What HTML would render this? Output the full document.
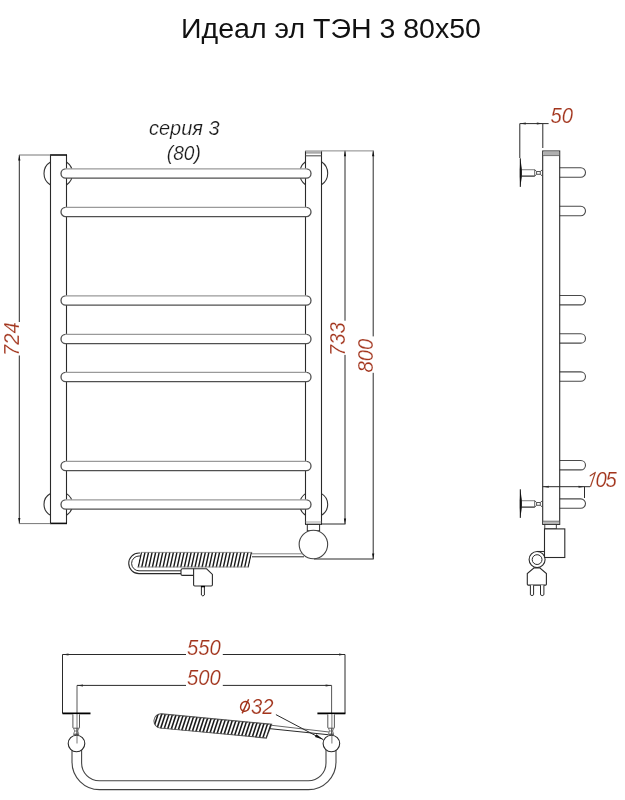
<!DOCTYPE html>
<html><head><meta charset="utf-8"><style>
html,body{margin:0;padding:0;background:#fff;}
body{width:625px;height:800px;overflow:hidden;position:relative;}
svg{position:absolute;left:0;top:0;will-change:transform;}
.t{font-family:"Liberation Sans",sans-serif;}
.d{font-family:"Liberation Sans",sans-serif;font-style:italic;fill:#a2341c;stroke:#fff;stroke-width:0.2px;}
</style></head><body>
<svg width="625" height="800" viewBox="0 0 625 800">
<rect width="625" height="800" fill="#fff"/>
<path d="M50.5,162 A13.42,13.42 0 0 0 50.5,185" fill="none" stroke="#333" stroke-width="1.1"/>
<path d="M66.5,162 A14.02,14.02 0 0 1 66.5,185" fill="none" stroke="#333" stroke-width="1.1"/>
<path d="M50.5,493.6 A12.22,12.22 0 0 0 50.5,515.2" fill="none" stroke="#333" stroke-width="1.1"/>
<path d="M66.5,493.6 A12.72,12.72 0 0 1 66.5,515.2" fill="none" stroke="#333" stroke-width="1.1"/>
<path d="M305.5,161.7 A14.40,14.40 0 0 0 305.5,184.8" fill="none" stroke="#333" stroke-width="1.1"/>
<path d="M321.5,161.7 A13.86,13.86 0 0 1 321.5,184.8" fill="none" stroke="#333" stroke-width="1.1"/>
<path d="M305.5,493.6 A12.96,12.96 0 0 0 305.5,515.2" fill="none" stroke="#333" stroke-width="1.1"/>
<path d="M321.5,493.6 A12.51,12.51 0 0 1 321.5,515.2" fill="none" stroke="#333" stroke-width="1.1"/>
<path d="M50.5,155 L50.5,523.5 M66.5,155 L66.5,523.5" fill="none" stroke="#2a2a2a" stroke-width="1.1"/>
<line x1="50" y1="155" x2="67" y2="155" stroke="#111" stroke-width="1.6"/>
<line x1="50" y1="523.4" x2="67" y2="523.4" stroke="#111" stroke-width="1.6"/>
<path d="M305.5,151 L305.5,524.2 M321.5,151 L321.5,524.2" fill="none" stroke="#2a2a2a" stroke-width="1.1"/>
<line x1="305" y1="151" x2="322" y2="151" stroke="#888" stroke-width="1"/>
<rect x="306" y="151.3" width="15" height="2.4" fill="#aaa"/>
<line x1="305.5" y1="155.8" x2="321.5" y2="155.8" stroke="#555" stroke-width="1.1"/>
<line x1="305.5" y1="522" x2="321.5" y2="522" stroke="#999" stroke-width="0.9"/>
<line x1="305" y1="524.3" x2="322" y2="524.3" stroke="#222" stroke-width="1.1"/>
<path d="M65.64999999999999,168.8 L306.35,168.8 A4.6499999999999915,4.6499999999999915 0 0 1 306.35,178.1 L65.64999999999999,178.1 A4.6499999999999915,4.6499999999999915 0 0 1 65.64999999999999,168.8 Z" fill="#fff"/>
<path d="M65.64999999999999,168.8 A4.6499999999999915,4.6499999999999915 0 0 0 65.64999999999999,178.1 L306.35,178.1 A4.6499999999999915,4.6499999999999915 0 0 0 306.35,168.8" fill="none" stroke="#505050" stroke-width="1.3"/>
<line x1="65.64999999999999" y1="168.8" x2="306.35" y2="168.8" stroke="#9a9a9a" stroke-width="1.3"/>
<path d="M65.64999999999999,207.3 L306.35,207.3 A4.6499999999999915,4.6499999999999915 0 0 1 306.35,216.6 L65.64999999999999,216.6 A4.6499999999999915,4.6499999999999915 0 0 1 65.64999999999999,207.3 Z" fill="#fff"/>
<path d="M65.64999999999999,207.3 A4.6499999999999915,4.6499999999999915 0 0 0 65.64999999999999,216.6 L306.35,216.6 A4.6499999999999915,4.6499999999999915 0 0 0 306.35,207.3" fill="none" stroke="#505050" stroke-width="1.3"/>
<line x1="65.64999999999999" y1="207.3" x2="306.35" y2="207.3" stroke="#9a9a9a" stroke-width="1.3"/>
<path d="M65.65,295.8 L306.35,295.8 A4.650000000000006,4.650000000000006 0 0 1 306.35,305.1 L65.65,305.1 A4.650000000000006,4.650000000000006 0 0 1 65.65,295.8 Z" fill="#fff"/>
<path d="M65.65,295.8 A4.650000000000006,4.650000000000006 0 0 0 65.65,305.1 L306.35,305.1 A4.650000000000006,4.650000000000006 0 0 0 306.35,295.8" fill="none" stroke="#505050" stroke-width="1.3"/>
<line x1="65.65" y1="295.8" x2="306.35" y2="295.8" stroke="#9a9a9a" stroke-width="1.3"/>
<path d="M65.65,334.3 L306.35,334.3 A4.650000000000006,4.650000000000006 0 0 1 306.35,343.6 L65.65,343.6 A4.650000000000006,4.650000000000006 0 0 1 65.65,334.3 Z" fill="#fff"/>
<path d="M65.65,334.3 A4.650000000000006,4.650000000000006 0 0 0 65.65,343.6 L306.35,343.6 A4.650000000000006,4.650000000000006 0 0 0 306.35,334.3" fill="none" stroke="#505050" stroke-width="1.3"/>
<line x1="65.65" y1="334.3" x2="306.35" y2="334.3" stroke="#9a9a9a" stroke-width="1.3"/>
<path d="M65.65,372.3 L306.35,372.3 A4.650000000000006,4.650000000000006 0 0 1 306.35,381.6 L65.65,381.6 A4.650000000000006,4.650000000000006 0 0 1 65.65,372.3 Z" fill="#fff"/>
<path d="M65.65,372.3 A4.650000000000006,4.650000000000006 0 0 0 65.65,381.6 L306.35,381.6 A4.650000000000006,4.650000000000006 0 0 0 306.35,372.3" fill="none" stroke="#505050" stroke-width="1.3"/>
<line x1="65.65" y1="372.3" x2="306.35" y2="372.3" stroke="#9a9a9a" stroke-width="1.3"/>
<path d="M65.65,461.3 L306.35,461.3 A4.650000000000006,4.650000000000006 0 0 1 306.35,470.6 L65.65,470.6 A4.650000000000006,4.650000000000006 0 0 1 65.65,461.3 Z" fill="#fff"/>
<path d="M65.65,461.3 A4.650000000000006,4.650000000000006 0 0 0 65.65,470.6 L306.35,470.6 A4.650000000000006,4.650000000000006 0 0 0 306.35,461.3" fill="none" stroke="#505050" stroke-width="1.3"/>
<line x1="65.65" y1="461.3" x2="306.35" y2="461.3" stroke="#9a9a9a" stroke-width="1.3"/>
<path d="M65.65,499.8 L306.35,499.8 A4.650000000000006,4.650000000000006 0 0 1 306.35,509.1 L65.65,509.1 A4.650000000000006,4.650000000000006 0 0 1 65.65,499.8 Z" fill="#fff"/>
<path d="M65.65,499.8 A4.650000000000006,4.650000000000006 0 0 0 65.65,509.1 L306.35,509.1 A4.650000000000006,4.650000000000006 0 0 0 306.35,499.8" fill="none" stroke="#505050" stroke-width="1.3"/>
<line x1="65.65" y1="499.8" x2="306.35" y2="499.8" stroke="#9a9a9a" stroke-width="1.3"/>
<line x1="19.3" y1="155" x2="19.3" y2="322" stroke="#2a2a2a" stroke-width="1"/>
<line x1="19.3" y1="355.5" x2="19.3" y2="523.6" stroke="#2a2a2a" stroke-width="1"/>
<path d="M19.3,155 l-1.1,5.5 l2.2,0 z" fill="#111"/>
<path d="M19.3,523.6 l-1.1,-5.5 l2.2,0 z" fill="#111"/>
<line x1="19" y1="155" x2="50.5" y2="155" stroke="#777" stroke-width="1"/>
<line x1="19" y1="523.6" x2="50.5" y2="523.6" stroke="#777" stroke-width="1"/>
<line x1="345" y1="150.7" x2="345" y2="320.7" stroke="#2a2a2a" stroke-width="1"/>
<line x1="345" y1="354.9" x2="345" y2="524" stroke="#2a2a2a" stroke-width="1"/>
<path d="M345,150.7 l-1.1,5.5 l2.2,0 z" fill="#111"/>
<path d="M345,524 l-1.1,-5.5 l2.2,0 z" fill="#111"/>
<line x1="373.2" y1="150.7" x2="373.2" y2="336.4" stroke="#2a2a2a" stroke-width="1"/>
<line x1="373.2" y1="372.8" x2="373.2" y2="559" stroke="#2a2a2a" stroke-width="1"/>
<path d="M373.2,150.7 l-1.1,5.5 l2.2,0 z" fill="#111"/>
<path d="M373.2,559 l-1.1,-5.5 l2.2,0 z" fill="#111"/>
<line x1="321.5" y1="150.9" x2="373.7" y2="150.9" stroke="#888" stroke-width="1"/>
<line x1="321.5" y1="524" x2="345.5" y2="524" stroke="#2a2a2a" stroke-width="1"/>
<line x1="314" y1="559" x2="373.7" y2="559" stroke="#2a2a2a" stroke-width="1"/>
<rect x="307.3" y="524.4" width="12.3" height="6.4" fill="#fff" stroke="#2a2a2a" stroke-width="1"/>
<circle cx="313.4" cy="544.5" r="14.25" fill="#fff" stroke="#444" stroke-width="1.1"/>
<line x1="252" y1="553.8" x2="303" y2="553.8" stroke="#777" stroke-width="0.9"/>
<line x1="252" y1="556.8" x2="304" y2="556.8" stroke="#2a2a2a" stroke-width="1"/>
<clipPath id="cf"><path d="M140.8,552 L252.2,552 L248.79999999999998,567.4 L137.4,567.4 Z"/></clipPath>
<g clip-path="url(#cf)">
<path d="M130.30,567.4 L133.70,552 L135.15,552 L131.75,567.4 Z" fill="#1a1a1a"/>
<path d="M133.85,567.4 L137.25,552 L138.70,552 L135.30,567.4 Z" fill="#1a1a1a"/>
<path d="M137.40,567.4 L140.80,552 L142.25,552 L138.85,567.4 Z" fill="#1a1a1a"/>
<path d="M140.95,567.4 L144.35,552 L145.80,552 L142.40,567.4 Z" fill="#1a1a1a"/>
<path d="M144.50,567.4 L147.90,552 L149.35,552 L145.95,567.4 Z" fill="#1a1a1a"/>
<path d="M148.05,567.4 L151.45,552 L152.90,552 L149.50,567.4 Z" fill="#1a1a1a"/>
<path d="M151.60,567.4 L155.00,552 L156.45,552 L153.05,567.4 Z" fill="#1a1a1a"/>
<path d="M155.15,567.4 L158.55,552 L160.00,552 L156.60,567.4 Z" fill="#1a1a1a"/>
<path d="M158.70,567.4 L162.10,552 L163.55,552 L160.15,567.4 Z" fill="#1a1a1a"/>
<path d="M162.25,567.4 L165.65,552 L167.10,552 L163.70,567.4 Z" fill="#1a1a1a"/>
<path d="M165.80,567.4 L169.20,552 L170.65,552 L167.25,567.4 Z" fill="#1a1a1a"/>
<path d="M169.35,567.4 L172.75,552 L174.20,552 L170.80,567.4 Z" fill="#1a1a1a"/>
<path d="M172.90,567.4 L176.30,552 L177.75,552 L174.35,567.4 Z" fill="#1a1a1a"/>
<path d="M176.45,567.4 L179.85,552 L181.30,552 L177.90,567.4 Z" fill="#1a1a1a"/>
<path d="M180.00,567.4 L183.40,552 L184.85,552 L181.45,567.4 Z" fill="#1a1a1a"/>
<path d="M183.55,567.4 L186.95,552 L188.40,552 L185.00,567.4 Z" fill="#1a1a1a"/>
<path d="M187.10,567.4 L190.50,552 L191.95,552 L188.55,567.4 Z" fill="#1a1a1a"/>
<path d="M190.65,567.4 L194.05,552 L195.50,552 L192.10,567.4 Z" fill="#1a1a1a"/>
<path d="M194.20,567.4 L197.60,552 L199.05,552 L195.65,567.4 Z" fill="#1a1a1a"/>
<path d="M197.75,567.4 L201.15,552 L202.60,552 L199.20,567.4 Z" fill="#1a1a1a"/>
<path d="M201.30,567.4 L204.70,552 L206.15,552 L202.75,567.4 Z" fill="#1a1a1a"/>
<path d="M204.85,567.4 L208.25,552 L209.70,552 L206.30,567.4 Z" fill="#1a1a1a"/>
<path d="M208.40,567.4 L211.80,552 L213.25,552 L209.85,567.4 Z" fill="#1a1a1a"/>
<path d="M211.95,567.4 L215.35,552 L216.80,552 L213.40,567.4 Z" fill="#1a1a1a"/>
<path d="M215.50,567.4 L218.90,552 L220.35,552 L216.95,567.4 Z" fill="#1a1a1a"/>
<path d="M219.05,567.4 L222.45,552 L223.90,552 L220.50,567.4 Z" fill="#1a1a1a"/>
<path d="M222.60,567.4 L226.00,552 L227.45,552 L224.05,567.4 Z" fill="#1a1a1a"/>
<path d="M226.15,567.4 L229.55,552 L231.00,552 L227.60,567.4 Z" fill="#1a1a1a"/>
<path d="M229.70,567.4 L233.10,552 L234.55,552 L231.15,567.4 Z" fill="#1a1a1a"/>
<path d="M233.25,567.4 L236.65,552 L238.10,552 L234.70,567.4 Z" fill="#1a1a1a"/>
<path d="M236.80,567.4 L240.20,552 L241.65,552 L238.25,567.4 Z" fill="#1a1a1a"/>
<path d="M240.35,567.4 L243.75,552 L245.20,552 L241.80,567.4 Z" fill="#1a1a1a"/>
<path d="M243.90,567.4 L247.30,552 L248.75,552 L245.35,567.4 Z" fill="#1a1a1a"/>
<path d="M247.45,567.4 L250.85,552 L252.30,552 L248.90,567.4 Z" fill="#1a1a1a"/>
<path d="M251.00,567.4 L254.40,552 L255.85,552 L252.45,567.4 Z" fill="#1a1a1a"/>
<path d="M254.55,567.4 L257.95,552 L259.40,552 L256.00,567.4 Z" fill="#1a1a1a"/>
</g>
<line x1="140.8" y1="552.4" x2="252.2" y2="552.4" stroke="#888" stroke-width="0.9"/>
<line x1="137.4" y1="567.0" x2="248.79999999999998" y2="567.0" stroke="#888" stroke-width="0.9"/>
<path d="M140,553 L139,553 A10.3,10.3 0 0 0 139,573.6 L181.5,573.6" fill="none" stroke="#2a2a2a" stroke-width="1.1"/>
<path d="M140,556 L139,556 A7.4,7.4 0 0 0 139,570.8 L181.5,570.8" fill="none" stroke="#2a2a2a" stroke-width="1"/>
<path d="M193.6,568.8 L182.5,568.8 Q181,568.8 181,570.3 L181,574 Q181,575.4 182.5,575.4 L193.6,575.4" fill="#fff" stroke="#2a2a2a" stroke-width="1.1"/>
<path d="M193.6,568.8 L206.6,568.8 L212.4,574.4 L212.4,584.8 Q212.4,586 211.2,586 L194.8,586 Q193.6,586 193.6,584.8 Z" fill="#fff" stroke="#2a2a2a" stroke-width="1.1"/>
<path d="M201.4,586 L201.4,595 Q202.9,597 204.4,595 L204.4,586" fill="#fff" stroke="#2a2a2a" stroke-width="1"/>
<line x1="201" y1="586.6" x2="205" y2="586.6" stroke="#000" stroke-width="1.4"/>
<path d="M559.7,167.8 L580.8,167.8 A4.699999999999989,4.699999999999989 0 0 1 580.8,177.2 L559.7,177.2" fill="#fff" stroke="#4a4a4a" stroke-width="1.1"/>
<path d="M559.7,206.3 L580.8,206.3 A4.699999999999989,4.699999999999989 0 0 1 580.8,215.7 L559.7,215.7" fill="#fff" stroke="#4a4a4a" stroke-width="1.1"/>
<path d="M559.7,295.5 L580.8,295.5 A4.699999999999989,4.699999999999989 0 0 1 580.8,304.9 L559.7,304.9" fill="#fff" stroke="#4a4a4a" stroke-width="1.1"/>
<path d="M559.7,333.7 L580.8,333.7 A4.699999999999989,4.699999999999989 0 0 1 580.8,343.09999999999997 L559.7,343.09999999999997" fill="#fff" stroke="#4a4a4a" stroke-width="1.1"/>
<path d="M559.7,371.90000000000003 L580.8,371.90000000000003 A4.699999999999989,4.699999999999989 0 0 1 580.8,381.3 L559.7,381.3" fill="#fff" stroke="#4a4a4a" stroke-width="1.1"/>
<path d="M559.7,460.5 L580.8,460.5 A4.699999999999989,4.699999999999989 0 0 1 580.8,469.9 L559.7,469.9" fill="#fff" stroke="#4a4a4a" stroke-width="1.1"/>
<path d="M559.7,498.90000000000003 L580.8,498.90000000000003 A4.699999999999989,4.699999999999989 0 0 1 580.8,508.3 L559.7,508.3" fill="#fff" stroke="#4a4a4a" stroke-width="1.1"/>
<rect x="542.7" y="151" width="17" height="373.4" fill="none" stroke="#2a2a2a" stroke-width="1.1"/>
<rect x="543.2" y="151.5" width="16" height="4" fill="#b0b0b0"/>
<line x1="542.7" y1="155.6" x2="559.7" y2="155.6" stroke="#555" stroke-width="0.8"/>
<rect x="543.2" y="521.4" width="16" height="2.6" fill="#b8b8b8"/>
<line x1="542.7" y1="521.2" x2="559.7" y2="521.2" stroke="#555" stroke-width="0.8"/>
<path d="M520.3,158.3 L521.9,169.4 L521.9,176.4 L520.3,186.9 L519.8,176.4 L519.8,169.4 Z" fill="#111"/>
<line x1="520.3" y1="158.3" x2="520.3" y2="186.9" stroke="#111" stroke-width="1"/>
<line x1="522" y1="169.70000000000002" x2="534.7" y2="169.70000000000002" stroke="#888" stroke-width="1.1"/>
<line x1="522" y1="176.1" x2="534.7" y2="176.1" stroke="#111" stroke-width="1.1"/>
<path d="M534.7,169.70000000000002 L534.7,176.1" stroke="#555" stroke-width="0.9"/>
<path d="M534.7,169.70000000000002 L536.6,171.5 L540.3,171.5 L542.4,169.70000000000002 M534.7,176.1 L536.6,174.3 L540.3,174.3 L542.4,176.1 M536.6,171.5 L536.6,174.3 M540.3,171.5 L540.3,174.3" fill="none" stroke="#444" stroke-width="0.9"/>
<path d="M520.3,489.29999999999995 L521.9,500.4 L521.9,507.4 L520.3,517.9 L519.8,507.4 L519.8,500.4 Z" fill="#111"/>
<line x1="520.3" y1="489.29999999999995" x2="520.3" y2="517.9" stroke="#111" stroke-width="1"/>
<line x1="522" y1="500.7" x2="534.7" y2="500.7" stroke="#888" stroke-width="1.1"/>
<line x1="522" y1="507.09999999999997" x2="534.7" y2="507.09999999999997" stroke="#111" stroke-width="1.1"/>
<path d="M534.7,500.7 L534.7,507.09999999999997" stroke="#555" stroke-width="0.9"/>
<path d="M534.7,500.7 L536.6,502.5 L540.3,502.5 L542.4,500.7 M534.7,507.09999999999997 L536.6,505.29999999999995 L540.3,505.29999999999995 L542.4,507.09999999999997 M536.6,502.5 L536.6,505.29999999999995 M540.3,502.5 L540.3,505.29999999999995" fill="none" stroke="#444" stroke-width="0.9"/>
<line x1="519.8" y1="123.6" x2="548.6" y2="123.6" stroke="#2a2a2a" stroke-width="1"/>
<line x1="519.8" y1="123.6" x2="519.8" y2="158" stroke="#2a2a2a" stroke-width="1"/>
<line x1="542.8" y1="123.6" x2="542.8" y2="148" stroke="#2a2a2a" stroke-width="1"/>
<path d="M519.8,123.6 l6,-1 l0,2 z" fill="#2a2a2a"/>
<path d="M542.8,123.6 l-6,-1 l0,2 z" fill="#2a2a2a"/>
<line x1="542.6" y1="486.7" x2="590" y2="486.7" stroke="#2a2a2a" stroke-width="1"/>
<line x1="584.5" y1="486.7" x2="584.5" y2="498" stroke="#2a2a2a" stroke-width="1"/>
<path d="M542.8,486.7 l6,-1 l0,2 z" fill="#2a2a2a"/>
<path d="M584.5,486.7 l-6,-1 l0,2 z" fill="#2a2a2a"/>
<rect x="544.8" y="524.4" width="11.5" height="4.5" fill="#fff" stroke="#2a2a2a" stroke-width="0.9"/>
<rect x="544.5" y="528.9" width="20.3" height="28.6" fill="#fff" stroke="#2a2a2a" stroke-width="1.1"/>
<circle cx="537.1" cy="559.5" r="8" fill="none" stroke="#2a2a2a" stroke-width="1.1"/>
<circle cx="537.1" cy="559.6" r="4.9" fill="none" stroke="#2a2a2a" stroke-width="1"/>
<line x1="537.1" y1="551.5" x2="544.5" y2="551.5" stroke="#2a2a2a" stroke-width="1.1"/>
<path d="M527.3,584.2 L527.3,573.6 L534.1,567.9 L539.7,567.9 L546.4,573.6 L546.4,584.2 Q546.4,585.1 545.5,585.1 L528.2,585.1 Q527.3,585.1 527.3,584.2 Z" fill="#fff" stroke="#2a2a2a" stroke-width="1.1"/>
<path d="M530.4,585.2 L530.4,594.8 Q532,596.5 533.6,594.8 L533.6,585.2" fill="#fff" stroke="#2a2a2a" stroke-width="1"/>
<path d="M540.5,585.2 L540.5,594.8 Q542.2,596.5 543.9,594.8 L543.9,585.2" fill="#fff" stroke="#2a2a2a" stroke-width="1"/>
<line x1="62.5" y1="654.5" x2="186" y2="654.5" stroke="#2a2a2a" stroke-width="1"/>
<line x1="222.8" y1="654.5" x2="345" y2="654.5" stroke="#2a2a2a" stroke-width="1"/>
<line x1="62.5" y1="654.5" x2="62.5" y2="713.5" stroke="#2a2a2a" stroke-width="1"/>
<line x1="345" y1="654.5" x2="345" y2="713.5" stroke="#2a2a2a" stroke-width="1"/>
<path d="M62.5,654.5 l6,-1 l0,2 z" fill="#2a2a2a"/>
<path d="M345,654.5 l-6,-1 l0,2 z" fill="#2a2a2a"/>
<line x1="77" y1="685.4" x2="186" y2="685.4" stroke="#2a2a2a" stroke-width="1"/>
<line x1="222.8" y1="685.4" x2="331.6" y2="685.4" stroke="#2a2a2a" stroke-width="1"/>
<line x1="77" y1="685.4" x2="77" y2="744" stroke="#444" stroke-width="0.9"/>
<line x1="331.6" y1="685.4" x2="331.6" y2="744" stroke="#444" stroke-width="0.9"/>
<path d="M77,685.4 l6,-1 l0,2 z" fill="#2a2a2a"/>
<path d="M331.6,685.4 l-6,-1 l0,2 z" fill="#2a2a2a"/>
<path d="M72,748 L72,762 A27.6,27.6 0 0 0 99.6,789.6 L308.4,789.6 A27.6,27.6 0 0 0 336,762 L336,748" fill="none" stroke="#444" stroke-width="1.1"/>
<path d="M81.6,748 L81.6,763 A17.8,17.8 0 0 0 99.4,780.8 L308.2,780.8 A17.8,17.8 0 0 0 326,763 L326,748" fill="none" stroke="#444" stroke-width="1.1"/>
<line x1="62.5" y1="713.4" x2="90.5" y2="713.4" stroke="#000" stroke-width="1.8"/>
<path d="M72.9,714.3 L72.9,727.6 Q72.9,728.2 73.5,728.2 L78.9,728.2 Q79.5,728.2 79.5,727.6 L79.5,714.3" fill="#fff" stroke="#444" stroke-width="0.9"/>
<path d="M73.5,728.2 L74.7,731 L73.7,733.6 M78.9,728.2 L77.7,731 L78.7,733.6 M74.7,731 L77.7,731" fill="none" stroke="#666" stroke-width="0.8"/>
<line x1="73.3" y1="734.2" x2="79.1" y2="734.2" stroke="#222" stroke-width="1"/>
<circle cx="76.5" cy="743.5" r="8.3" fill="#fff" stroke="#2a2a2a" stroke-width="1.1"/>
<line x1="77.0" y1="714" x2="77.0" y2="743.5" stroke="#555" stroke-width="0.8"/>
<line x1="317.4" y1="713.4" x2="345.4" y2="713.4" stroke="#000" stroke-width="1.8"/>
<path d="M327.79999999999995,714.3 L327.79999999999995,727.6 Q327.79999999999995,728.2 328.4,728.2 L333.79999999999995,728.2 Q334.4,728.2 334.4,727.6 L334.4,714.3" fill="#fff" stroke="#444" stroke-width="0.9"/>
<path d="M328.4,728.2 L329.59999999999997,731 L328.59999999999997,733.6 M333.79999999999995,728.2 L332.59999999999997,731 L333.59999999999997,733.6 M329.59999999999997,731 L332.59999999999997,731" fill="none" stroke="#666" stroke-width="0.8"/>
<line x1="328.2" y1="734.2" x2="334.0" y2="734.2" stroke="#222" stroke-width="1"/>
<circle cx="331.4" cy="743.5" r="8.3" fill="#fff" stroke="#2a2a2a" stroke-width="1.1"/>
<line x1="331.9" y1="714" x2="331.9" y2="743.5" stroke="#555" stroke-width="0.8"/>
<g transform="translate(154.0,720.3) rotate(5.371)">
<clipPath id="ct"><path d="M7,-7.2 L117.52,-7.2 L113.52,7.2 L7,7.2 A7,7.2 0 0 1 7,-7.2 Z"/></clipPath>
<path d="M7,-7.2 L117.52,-7.2 L113.52,7.2 L7,7.2 A7,7.2 0 0 1 7,-7.2 Z" fill="#fff" stroke="#555" stroke-width="1"/>
<g clip-path="url(#ct)">
<path d="M-4.00,7.2 L-0.70,-7.2 L0.90,-7.2 L-2.40,7.2 Z" fill="#1a1a1a"/>
<path d="M-0.46,7.2 L2.84,-7.2 L4.44,-7.2 L1.14,7.2 Z" fill="#1a1a1a"/>
<path d="M3.08,7.2 L6.38,-7.2 L7.98,-7.2 L4.68,7.2 Z" fill="#1a1a1a"/>
<path d="M6.62,7.2 L9.92,-7.2 L11.52,-7.2 L8.22,7.2 Z" fill="#1a1a1a"/>
<path d="M10.16,7.2 L13.46,-7.2 L15.06,-7.2 L11.76,7.2 Z" fill="#1a1a1a"/>
<path d="M13.70,7.2 L17.00,-7.2 L18.60,-7.2 L15.30,7.2 Z" fill="#1a1a1a"/>
<path d="M17.24,7.2 L20.54,-7.2 L22.14,-7.2 L18.84,7.2 Z" fill="#1a1a1a"/>
<path d="M20.78,7.2 L24.08,-7.2 L25.68,-7.2 L22.38,7.2 Z" fill="#1a1a1a"/>
<path d="M24.32,7.2 L27.62,-7.2 L29.22,-7.2 L25.92,7.2 Z" fill="#1a1a1a"/>
<path d="M27.86,7.2 L31.16,-7.2 L32.76,-7.2 L29.46,7.2 Z" fill="#1a1a1a"/>
<path d="M31.40,7.2 L34.70,-7.2 L36.30,-7.2 L33.00,7.2 Z" fill="#1a1a1a"/>
<path d="M34.94,7.2 L38.24,-7.2 L39.84,-7.2 L36.54,7.2 Z" fill="#1a1a1a"/>
<path d="M38.48,7.2 L41.78,-7.2 L43.38,-7.2 L40.08,7.2 Z" fill="#1a1a1a"/>
<path d="M42.02,7.2 L45.32,-7.2 L46.92,-7.2 L43.62,7.2 Z" fill="#1a1a1a"/>
<path d="M45.56,7.2 L48.86,-7.2 L50.46,-7.2 L47.16,7.2 Z" fill="#1a1a1a"/>
<path d="M49.10,7.2 L52.40,-7.2 L54.00,-7.2 L50.70,7.2 Z" fill="#1a1a1a"/>
<path d="M52.64,7.2 L55.94,-7.2 L57.54,-7.2 L54.24,7.2 Z" fill="#1a1a1a"/>
<path d="M56.18,7.2 L59.48,-7.2 L61.08,-7.2 L57.78,7.2 Z" fill="#1a1a1a"/>
<path d="M59.72,7.2 L63.02,-7.2 L64.62,-7.2 L61.32,7.2 Z" fill="#1a1a1a"/>
<path d="M63.26,7.2 L66.56,-7.2 L68.16,-7.2 L64.86,7.2 Z" fill="#1a1a1a"/>
<path d="M66.80,7.2 L70.10,-7.2 L71.70,-7.2 L68.40,7.2 Z" fill="#1a1a1a"/>
<path d="M70.34,7.2 L73.64,-7.2 L75.24,-7.2 L71.94,7.2 Z" fill="#1a1a1a"/>
<path d="M73.88,7.2 L77.18,-7.2 L78.78,-7.2 L75.48,7.2 Z" fill="#1a1a1a"/>
<path d="M77.42,7.2 L80.72,-7.2 L82.32,-7.2 L79.02,7.2 Z" fill="#1a1a1a"/>
<path d="M80.96,7.2 L84.26,-7.2 L85.86,-7.2 L82.56,7.2 Z" fill="#1a1a1a"/>
<path d="M84.50,7.2 L87.80,-7.2 L89.40,-7.2 L86.10,7.2 Z" fill="#1a1a1a"/>
<path d="M88.04,7.2 L91.34,-7.2 L92.94,-7.2 L89.64,7.2 Z" fill="#1a1a1a"/>
<path d="M91.58,7.2 L94.88,-7.2 L96.48,-7.2 L93.18,7.2 Z" fill="#1a1a1a"/>
<path d="M95.12,7.2 L98.42,-7.2 L100.02,-7.2 L96.72,7.2 Z" fill="#1a1a1a"/>
<path d="M98.66,7.2 L101.96,-7.2 L103.56,-7.2 L100.26,7.2 Z" fill="#1a1a1a"/>
<path d="M102.20,7.2 L105.50,-7.2 L107.10,-7.2 L103.80,7.2 Z" fill="#1a1a1a"/>
<path d="M105.74,7.2 L109.04,-7.2 L110.64,-7.2 L107.34,7.2 Z" fill="#1a1a1a"/>
<path d="M109.28,7.2 L112.58,-7.2 L114.18,-7.2 L110.88,7.2 Z" fill="#1a1a1a"/>
<path d="M112.82,7.2 L116.12,-7.2 L117.72,-7.2 L114.42,7.2 Z" fill="#1a1a1a"/>
<path d="M116.36,7.2 L119.66,-7.2 L121.26,-7.2 L117.96,7.2 Z" fill="#1a1a1a"/>
<path d="M119.90,7.2 L123.20,-7.2 L124.80,-7.2 L121.50,7.2 Z" fill="#1a1a1a"/>
</g>
<line x1="7" y1="-6.8" x2="117.52" y2="-6.8" stroke="#555" stroke-width="1" stroke-dasharray="1.8 1.74"/>
<line x1="7" y1="6.8" x2="113.52" y2="6.8" stroke="#555" stroke-width="1" stroke-dasharray="1.8 1.74"/>
</g>
<path d="M270.8,725.2 L329,732" stroke="#555" stroke-width="0.9" fill="none"/>
<path d="M270,728.7 L328,734.7" stroke="#2a2a2a" stroke-width="1" fill="none"/>
<line x1="275.9" y1="714.6" x2="323.2" y2="739.6" stroke="#2a2a2a" stroke-width="1"/>
<path d="M323.2,739.6 L314.94,737.04 L316.43,734.21 Z" fill="#111"/>
<text class="t" x="181" y="38.4" font-size="27" fill="#111" textLength="300" lengthAdjust="spacingAndGlyphs">Идеал эл ТЭН 3 80x50</text>
<text class="d" x="149" y="135.2" font-size="19.5" style="fill:#1a1a1a" textLength="70.5" lengthAdjust="spacingAndGlyphs">серия 3</text>
<text class="d" x="166.8" y="160.3" font-size="20" style="fill:#1a1a1a" textLength="34" lengthAdjust="spacingAndGlyphs">(80)</text>
<text class="d" font-size="22.5" transform="translate(19.2,356) rotate(-90) scale(0.9,1)">724</text>
<text class="d" font-size="22.5" transform="translate(345,356) rotate(-90) scale(0.9,1)">733</text>
<text class="d" font-size="22.5" transform="translate(373,372.5) rotate(-90) scale(0.9,1)">800</text>
<text class="d" font-size="22.5" transform="translate(550.5,122.8) scale(0.9,1)">50</text>
<path d="M590.6,486.3 L595.3,472.4 L590.2,475.8" fill="none" stroke="#a4442a" stroke-width="1.2" stroke-linejoin="round" stroke-linecap="round"/>
<text class="d" font-size="22.5" transform="translate(595.4,486.6) scale(0.9,1)">0</text>
<text class="d" font-size="22.5" transform="translate(605.4,486.6) scale(0.9,1)">5</text>
<text class="d" font-size="22.5" transform="translate(187,654.8) scale(0.9,1)">550</text>
<text class="d" font-size="22.5" transform="translate(187,684.8) scale(0.9,1)">500</text>
<text class="d" font-size="22.5" transform="translate(251,713.6) scale(0.9,1)">3</text>
<text class="d" font-size="22.5" transform="translate(262.2,713.6) scale(0.9,1)">2</text>
<ellipse cx="245" cy="706.4" rx="4.3" ry="4.9" transform="rotate(20 245 706.4)" fill="none" stroke="#a2341c" stroke-width="1.5"/>
<line x1="242.2" y1="713.4" x2="248.6" y2="699.2" stroke="#a2341c" stroke-width="1.5"/>
</svg>
</body></html>
